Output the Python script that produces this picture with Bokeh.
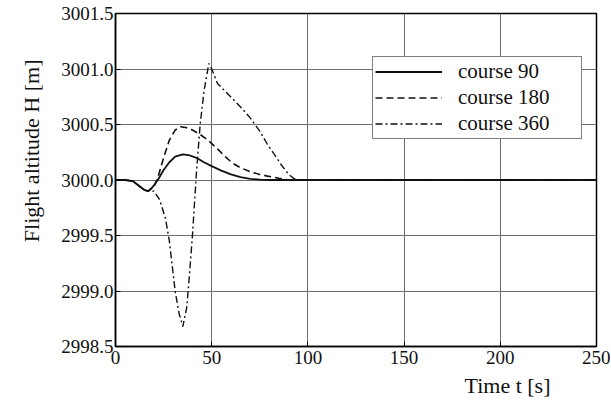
from bokeh.plotting import figure
from bokeh.models import Range1d, FixedTicker, Legend, LegendItem, NumeralTickFormatter, Title
from bokeh.embed import file_html
from bokeh.resources import INLINE

# ---- data ----
t90 = [0, 5, 9, 12, 15, 17, 19, 22, 25, 28, 31, 35, 38, 42, 46, 50, 55, 60, 65, 70, 75, 80, 90, 100, 150, 200, 250]
h90 = [3000.0, 3000.0, 2999.99, 2999.95, 2999.91, 2999.90, 2999.93, 3000.0, 3000.09, 3000.16, 3000.21, 3000.23,
       3000.225, 3000.20, 3000.16, 3000.125, 3000.085, 3000.05, 3000.025, 3000.01, 3000.004, 3000.0, 3000.0,
       3000.0, 3000.0, 3000.0, 3000.0]

t180 = [0, 5, 9, 12, 15, 17, 20, 22, 25, 28, 31, 34, 37, 40, 44, 48, 53, 57, 61, 65, 70, 75, 79, 85, 90, 100, 150, 200, 250]
h180 = [3000.0, 3000.0, 2999.99, 2999.95, 2999.91, 2999.90, 2999.94, 3000.02, 3000.2, 3000.36, 3000.45, 3000.48,
        3000.47, 3000.45, 3000.41, 3000.36, 3000.28, 3000.21, 3000.15, 3000.11, 3000.075, 3000.05, 3000.035,
        3000.015, 3000.0, 3000.0, 3000.0, 3000.0, 3000.0]

t360 = [0, 5, 9, 12, 15, 17, 20, 23, 26, 28, 31, 33, 35, 37, 38, 40, 42, 44, 46, 48.5, 50, 53, 57, 61, 66, 70, 75,
        79, 83, 86, 90, 93, 96, 100, 150, 200, 250]
h360 = [3000.0, 3000.0, 2999.99, 2999.95, 2999.91, 2999.90, 2999.90, 2999.82, 2999.65, 2999.45, 2999.0, 2998.8,
        2998.68, 2998.85, 2999.05, 2999.5, 3000.05, 3000.5, 3000.8, 3001.05, 3001.0, 3000.87, 3000.8, 3000.73,
        3000.64, 3000.56, 3000.44, 3000.32, 3000.22, 3000.14, 3000.05, 3000.01, 3000.0, 3000.0, 3000.0, 3000.0,
        3000.0]

x_ticks = [0, 50, 100, 150, 200, 250]
y_ticks = [2998.5, 2999.0, 2999.5, 3000.0, 3000.5, 3001.0, 3001.5]
legend_labels = ["course 90", "course 180", "course 360"]
x_title = "Time t [s]"
y_title = "Flight altitude H [m]"

FONT = "Liberation Serif"
INK = "#111111"

p = figure(width=610, height=404, output_backend="svg", toolbar_location=None,
           x_range=Range1d(0, 250), y_range=Range1d(2998.5, 3001.5),
           min_border_left=115, min_border_right=14, min_border_top=13, min_border_bottom=58)

p.background_fill_color = "white"
p.border_fill_color = "white"
p.outline_line_color = "black"
p.outline_line_width = 1.5

for ax in (p.xaxis, p.yaxis):
    ax.axis_line_color = "black"
    ax.axis_line_width = 1.5
    ax.major_tick_in = 5
    ax.major_tick_out = 0
    ax.major_tick_line_color = "black"
    ax.minor_tick_line_color = None
    ax.major_label_text_font = FONT
    ax.major_label_text_font_size = "19px"
    ax.major_label_text_color = INK

p.xaxis.ticker = FixedTicker(ticks=x_ticks)
p.yaxis.ticker = FixedTicker(ticks=y_ticks)
p.yaxis.formatter = NumeralTickFormatter(format="0.0")
p.xaxis.major_label_standoff = 4
p.yaxis.major_label_standoff = 2

p.grid.grid_line_color = "#6e6e6e"
p.grid.grid_line_width = 1
p.xgrid.ticker = FixedTicker(ticks=x_ticks)
p.ygrid.ticker = FixedTicker(ticks=y_ticks)

r1 = p.line(t90, h90, line_color=INK, line_width=1.8)
r2 = p.line(t180, h180, line_color=INK, line_width=1.6, line_dash="7 4")
r3 = p.line(t360, h360, line_color=INK, line_width=1.4, line_dash="7 3 2 3")

legend = Legend(items=[LegendItem(label=legend_labels[0], renderers=[r1]),
                       LegendItem(label=legend_labels[1], renderers=[r2]),
                       LegendItem(label=legend_labels[2], renderers=[r3])],
                location=(257, 207))
legend.label_text_font = FONT
legend.label_text_font_size = "21px"
legend.label_text_color = INK
legend.border_line_color = "black"
legend.border_line_width = 1.2
legend.background_fill_color = "white"
legend.background_fill_alpha = 1.0
legend.glyph_width = 67
legend.glyph_height = 21
legend.label_height = 21
legend.label_width = 121
legend.label_standoff = 16
legend.padding = 2
legend.spacing = 1
legend.margin = 0
p.add_layout(legend, "center")

# axis titles
xt = Title(text=x_title, align="left", offset=349, text_font=FONT, text_font_size="22px",
           text_font_style="normal", text_color=INK, standoff=8)
p.add_layout(xt, "below")
yt = Title(text=y_title, align="right", offset=46, text_font=FONT, text_font_size="22px",
           text_font_style="normal", text_color=INK, standoff=30)
p.add_layout(yt, "left")

open("out.html", "w").write(file_html(p, INLINE))
